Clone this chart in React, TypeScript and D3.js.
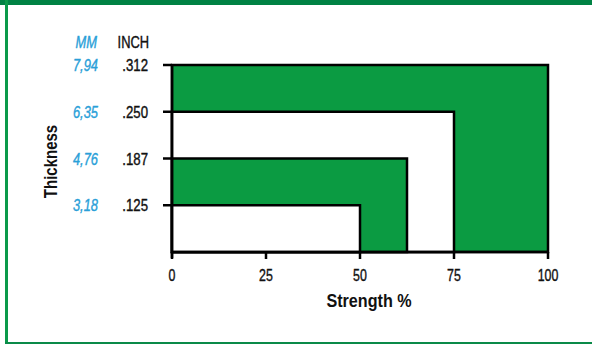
import React from "react";
import * as d3 from "d3";

const strengths = [100, 75, 62.5, 50];
const thicknessIn = [0.3125, 0.25, 0.1875, 0.125];
const inchLabels = [".312", ".250", ".187", ".125"];
const mmLabels = ["7,94", "6,35", "4,76", "3,18"];
const fills = ["#0b9b42", "#ffffff", "#0b9b42", "#ffffff"];
const xTicks = [0, 25, 50, 75, 100];

const W = 592;
const H = 344;
const FONT = "'Liberation Sans', Arial, sans-serif";

function CText(props: {
  x: number;
  y: number;
  sx?: number;
  rotate?: number;
  anchor?: string;
  size: number;
  fill: string;
  bold?: boolean;
  italic?: boolean;
  children: React.ReactNode;
}) {
  const { x, y, sx = 0.78, rotate = 0, anchor = "start", size, fill, bold, italic, children } = props;
  return (
    <text
      transform={`translate(${x},${y}) rotate(${rotate}) scale(${sx},1)`}
      textAnchor={anchor}
      fontSize={size}
      fontWeight={bold ? "bold" : "normal"}
      fontStyle={italic ? "italic" : "normal"}
      fill={fill}
      stroke={bold ? "none" : fill}
      strokeWidth={bold ? 0 : 0.4}
    >
      {children}
    </text>
  );
}

export default function App() {
  const x = d3.scaleLinear().domain([0, 100]).range([172, 548]);
  const y = d3.scaleLinear().domain([0.0625, 0.3125]).range([252, 65]);
  const base = y(0.0625);
  const blue = "#2a9fd8";
  const ink = "#111";
  return (
    <svg width={W} height={H} style={{ position: "absolute", left: 0, top: 0 }} fontFamily={FONT}>
      <rect x={0} y={0} width={W} height={H} fill="#fff" />
      {/* frame */}
      <rect x={0} y={0} width={W} height={5} fill="#008244" />
      <rect x={5} y={0} width={3} height={H} fill="#0a9a4a" />
      <rect x={5} y={342} width={W} height={2} fill="#0a8a48" />

      {strengths.map((s, i) => (
        <rect
          key={i}
          x={x(0)}
          y={y(thicknessIn[i])}
          width={x(s) - x(0)}
          height={base - y(thicknessIn[i])}
          fill={fills[i]}
          stroke="#000"
          strokeWidth={2.5}
        />
      ))}
      {/* axes */}
      <line x1={x(0)} x2={x(0)} y1={y(0.3125) - 1} y2={base + 6} stroke="#000" strokeWidth={2.5} />
      <line x1={x(0)} x2={x(100)} y1={base} y2={base} stroke="#000" strokeWidth={2.5} />
      {xTicks.map((t) => (
        <g key={t}>
          <line x1={x(t)} x2={x(t)} y1={base} y2={base + 7} stroke="#000" strokeWidth={2.5} />
          <CText x={x(t)} y={281} anchor="middle" size={16.5} sx={0.75} fill={ink}>{t}</CText>
        </g>
      ))}
      {thicknessIn.map((t, i) => (
        <g key={i}>
          <line x1={x(0) - 9} x2={x(0)} y1={y(t)} y2={y(t)} stroke="#000" strokeWidth={2.5} />
          <CText x={148} y={y(t) + 6} anchor="end" size={16.5} sx={0.8} fill={ink}>{inchLabels[i]}</CText>
          <CText x={98} y={y(t) + 6} anchor="end" size={16.5} sx={0.78} italic fill={blue}>{mmLabels[i]}</CText>
        </g>
      ))}
      <CText x={97} y={48} anchor="end" size={16.5} sx={0.78} italic fill={blue}>MM</CText>
      <CText x={149} y={48} anchor="end" size={16.5} sx={0.78} fill={ink}>INCH</CText>
      <CText x={57} y={161.5} rotate={-90} anchor="middle" size={19} sx={0.79} bold fill={ink}>Thickness</CText>
      <CText x={369} y={307} anchor="middle" size={19} sx={0.85} bold fill={ink}>Strength %</CText>
    </svg>
  );
}
